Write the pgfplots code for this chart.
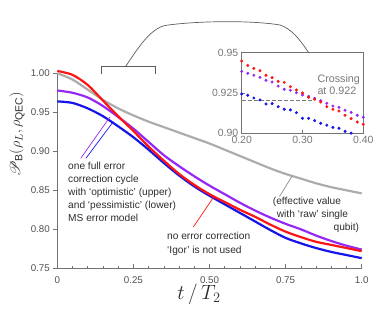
\documentclass[border=0pt]{standalone}
\usepackage{fontspec}
\setmainfont{Liberation Sans}
\usepackage{mathrsfs}
\usepackage{pgfplots}
\pgfplotsset{compat=1.18}
\definecolor{cred}{RGB}{255,20,20}
\definecolor{cpurple}{RGB}{150,40,245}
\definecolor{cblue}{RGB}{20,20,235}
\definecolor{cgray}{RGB}{172,172,172}
\definecolor{axisgray}{RGB}{115,115,115}
\definecolor{tickgray}{RGB}{80,80,80}
\definecolor{insetgray}{RGB}{120,120,120}
\definecolor{txt}{RGB}{45,45,45}

\pgfplotstableread{
t gray blue purple red
0.00 1.000 0.964 0.978 1.003
0.05 0.992 0.962 0.975 0.998
0.10 0.979 0.955 0.969 0.985
0.15 0.966 0.945 0.958 0.965
0.20 0.955 0.932 0.944 0.945
0.25 0.946 0.918 0.929 0.926
0.30 0.938 0.902 0.912 0.906
0.35 0.931 0.885 0.895 0.888
0.40 0.924 0.869 0.881 0.871
0.45 0.917 0.855 0.868 0.857
0.50 0.910 0.843 0.856 0.845
0.55 0.902 0.832 0.845 0.835
0.60 0.894 0.821 0.834 0.825
0.65 0.886 0.810 0.824 0.816
0.70 0.878 0.799 0.815 0.806
0.75 0.871 0.789 0.807 0.797
0.80 0.865 0.782 0.800 0.790
0.85 0.859 0.776 0.792 0.784
0.90 0.854 0.771 0.785 0.780
0.95 0.850 0.767 0.779 0.776
1.00 0.846 0.763 0.774 0.772
}\maincurves

\pgfplotstableread{
t red purple
0.20 0.9448 0.9384
0.21 0.9421 0.9372
0.22 0.9403 0.9360
0.23 0.9388 0.9347
0.24 0.9360 0.9329
0.25 0.9345 0.9318
0.26 0.9322 0.9293
0.27 0.9316 0.9273
0.28 0.9289 0.9267
0.29 0.9269 0.9252
0.30 0.9250 0.9238
0.31 0.9223 0.9229
0.32 0.9211 0.9217
0.33 0.9194 0.9202
0.34 0.9165 0.9186
0.35 0.9149 0.9169
0.36 0.9138 0.9161
0.37 0.9112 0.9143
0.38 0.9091 0.9130
0.39 0.9070 0.9112
0.40 0.9056 0.9099
}\insetrp

\pgfplotstableread{
t blue
0.20 0.9244
0.21 0.9236
0.22 0.9219
0.23 0.9207
0.24 0.9182
0.25 0.9184
0.26 0.9165
0.27 0.9149
0.28 0.9145
0.29 0.9128
0.30 0.9093
0.31 0.9093
0.32 0.9079
0.33 0.9062
0.34 0.9050
0.35 0.9037
0.36 0.9031
0.37 0.9012
0.38 0.9001
}\insetb

\begin{document}
\begin{tikzpicture}
\path[use as bounding box] (0,0) rectangle (374bp,311bp);

% main axis
\begin{axis}[
  at={(57.3bp,42.7bp)}, anchor=south west, scale only axis,
  width=304.4bp, height=195bp,
  xmin=0, xmax=1, ymin=0.75, ymax=1.0,
  axis lines=left,
  axis line style={-, draw=axisgray, line width=0.8pt},
  clip=false,
  xtick={0,0.25,0.5,0.75,1}, xticklabels={0,0.25,0.50,0.75,1.0},
  minor xtick={0.05,0.1,0.15,0.2,0.3,0.35,0.4,0.45,0.55,0.6,0.65,0.7,0.8,0.85,0.9,0.95},
  ytick={0.75,0.8,0.85,0.9,0.95,1.0},
  yticklabels={0.75,0.80,0.85,0.90,0.95,1.00},
  tick align=outside,
  major tick length=4bp, minor tick length=2.5bp,
  tick style={draw=axisgray, line width=0.6pt},
  major x tick style={yshift=4bp},
  minor x tick style={yshift=2.5bp},
  ticklabel style={font=\fontsize{9.8}{11}\selectfont, text=tickgray},
  xticklabel style={yshift=-1bp},
]
\addplot[cgray, line width=2.2pt, smooth] table[x=t, y=gray] {\maincurves};
\addplot[cblue, line width=2.2pt, smooth] table[x=t, y=blue] {\maincurves};
\addplot[cpurple, line width=2.2pt, smooth] table[x=t, y=purple] {\maincurves};
\addplot[cred, line width=2.2pt, smooth] table[x=t, y=red] {\maincurves};
% connector lines
\draw[cpurple, line width=0.7pt] (axis cs:0.077,0.891) -- (axis cs:0.173,0.944);
\draw[cblue, line width=0.7pt] (axis cs:0.094,0.891) -- (axis cs:0.184,0.938);
\draw[cred, line width=0.7pt] (axis cs:0.447,0.803) -- (axis cs:0.513,0.841);
\draw[cgray!80!black, line width=0.7pt] (axis cs:0.730,0.842) -- (axis cs:0.771,0.868);
\end{axis}

% inset axis
\begin{axis}[
  at={(241.7bp,177.7bp)}, anchor=south west, scale only axis,
  width=121.6bp, height=80.6bp,
  xmin=0.2, xmax=0.4, ymin=0.9, ymax=0.95,
  axis line style={draw=axisgray, line width=0.8pt},
  xtick={0.2,0.3,0.4}, xticklabels={0.20,0.30,0.40},
  ytick={0.9,0.925,0.95}, yticklabels={0.90,0.925,0.95},
  tick align=inside, major tick length=3bp,
  xtick pos=bottom, ytick pos=left,
  tick style={draw=axisgray, line width=0.6pt},
  ticklabel style={font=\fontsize{10.5}{12}\selectfont, text=insetgray},
  xticklabel style={yshift=1bp},
]
\addplot[insetgray, dashed, line width=0.8pt, dash pattern=on 4bp off 2bp] coordinates {(0.2,0.9205) (0.318,0.9205)};
\addplot[only marks, mark=*, mark size=1.3bp, cblue, mark options={draw=none, fill=cblue}] table[x=t, y=blue] {\insetb};
\addplot[only marks, mark=*, mark size=1.3bp, cpurple, mark options={draw=none, fill=cpurple}] table[x=t, y=purple] {\insetrp};
\addplot[only marks, mark=*, mark size=1.3bp, cred, mark options={draw=none, fill=cred}] table[x=t, y=red] {\insetrp};
\end{axis}

% bracket and connecting curve
\draw[axisgray!80!black, line width=0.7pt] (101.7bp,237bp) -- (101.7bp,245bp) -- (155.7bp,245bp) -- (155.7bp,237bp);
\draw[axisgray!80!black, line width=0.7pt] (126bp,245bp) .. controls (138bp,263bp) and (150bp,282bp) .. (165bp,285.5bp)
  .. controls (195bp,290bp) and (250bp,291bp) .. (280bp,286bp)
  .. controls (292bp,282bp) and (300bp,271bp) .. (308.5bp,258.7bp);

% crossing text
\node[anchor=base west, inner sep=0, text=insetgray, font=\fontsize{10.8}{12}\selectfont] at (317.3bp,228.7bp) {Crossing};
\node[anchor=base west, inner sep=0, text=insetgray, font=\fontsize{10.8}{12}\selectfont] at (317.3bp,216bp) {at 0.922};

% annotation blocks
\begin{scope}[every node/.style={anchor=base west, inner sep=0, text=txt, font=\fontsize{10.2}{12}\selectfont}]
\node at (68bp,141bp) {one full error};
\node at (68bp,128bp) {correction cycle};
\node at (68bp,115bp) {with `optimistic' (upper)};
\node at (68bp,102bp) {and `pessimistic' (lower)};
\node at (68bp,89bp) {MS error model};
\node at (167bp,71.7bp) {no error correction};
\node at (167bp,57.7bp) {`Igor' is not used};
\node at (272.7bp,106bp) {(effective value};
\node at (276.7bp,93bp) {with `raw' single};
\node[anchor=base east] at (359.3bp,80bp) {qubit)};
\end{scope}

% axis labels
\node[rotate=90, anchor=center, inner sep=0, text=txt, font=\fontsize{15}{17}\selectfont] at (17bp,177bp) {$\mathscr{P}_{\mathrm{B}}(\rho_L,\rho_{\mathrm{QEC}})$};
\node[anchor=base, inner sep=0, text=txt, font=\fontsize{20}{22}\selectfont] at (199bp,12bp) {$t\,/\,T_2$};
\end{tikzpicture}
\end{document}
